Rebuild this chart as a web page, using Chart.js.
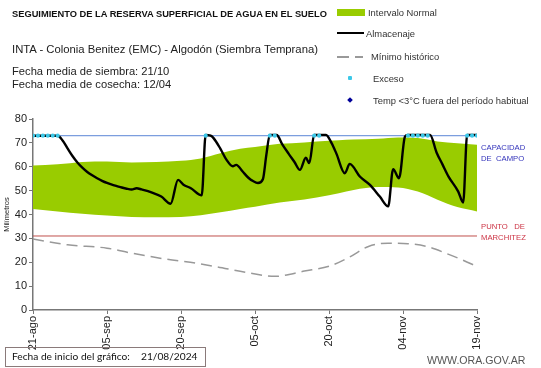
<!DOCTYPE html>
<html><head><meta charset="utf-8">
<script src="https://cdn.jsdelivr.net/npm/chart.js@4"></script>
<style>
body{margin:0;background:#fff;}
#wrap{position:relative;width:541px;height:368px;overflow:hidden;background:#fff;}
canvas{position:absolute;left:0;top:0;}
.t{position:absolute;white-space:nowrap;font-family:"Liberation Sans",Arial,sans-serif;color:#222;}
.lg{position:absolute;white-space:nowrap;font:9.4px "Liberation Sans",Arial,sans-serif;color:#333;}
</style></head>
<body>
<div id="wrap">
<canvas id="c" width="541" height="368"></canvas>
<div class="t" style="left:12px;top:9px;font-weight:bold;font-size:9.3px;color:#111;">SEGUIMIENTO DE LA RESERVA SUPERFICIAL DE AGUA EN EL SUELO</div>
<div class="t" style="left:12px;top:43px;font-size:11.3px;">INTA - Colonia Benitez (EMC) - Algodón (Siembra Temprana)</div>
<div class="t" style="left:12px;top:65px;font-size:11.2px;line-height:13px;">Fecha media de siembra: 21/10<br>Fecha media de cosecha: 12/04</div>

<div style="position:absolute;left:337px;top:9px;width:28px;height:7px;background:#99CC00;"></div>
<div class="lg" style="left:368px;top:7px;">Intervalo Normal</div>
<div style="position:absolute;left:337px;top:32px;width:27px;height:2.2px;background:#000;"></div>
<div class="lg" style="left:366px;top:28px;">Almacenaje</div>
<div style="position:absolute;left:337px;top:56px;width:12px;height:1.5px;background:#999;"></div>
<div style="position:absolute;left:355px;top:56px;width:8px;height:1.5px;background:#999;"></div>
<div class="lg" style="left:371px;top:51px;">Mínimo histórico</div>
<div style="position:absolute;left:348px;top:76px;width:4px;height:4px;background:#3CC8E8;border-radius:1px;"></div>
<div class="lg" style="left:373px;top:73px;">Exceso</div>
<div style="position:absolute;left:348px;top:98px;width:4px;height:4px;background:#000099;transform:rotate(45deg);"></div>
<div class="lg" style="left:373px;top:95px;">Temp &lt;3°C fuera del período habitual</div>

<div class="t" style="left:481px;top:142px;font-size:7.7px;line-height:11px;color:#3333BB;">CAPACIDAD<br>DE&nbsp; CAMPO</div>
<div class="t" style="left:481px;top:221px;font-size:7.7px;line-height:11px;color:#CC3344;">PUNTO&nbsp;&nbsp; DE<br>MARCHITEZ</div>

<div style="position:absolute;left:5px;top:347px;width:199px;height:18px;border:1px solid #8a7a7a;"></div>
<div class="t" style="left:12px;top:350px;font-family:Lato,sans-serif;font-size:10.2px;color:#111;">Fecha de inicio del gráfico:</div>
<div class="t" style="left:141px;top:350px;font-family:Lato,sans-serif;font-size:10.2px;color:#111;">21/08/2024</div>
<div class="t" style="left:427px;top:354px;font-size:10.6px;color:#555;">WWW.ORA.GOV.AR</div>
</div>
<script>
// X axis: days since 21/08/2024
const tickLabels = ['21-ago','05-sep','20-sep','05-oct','20-oct','04-nov','19-nov'];

const almDays = [0,1,2,3,4,5,6,7,8,9,10,11,12,13,14,15,16,17,18,19,20,21,22,24,26,27.9,29.4,30.5,32,34.2,35,36,36.6,38,39.2,40.5,41.2,42.5,43.6,44.6,45.6,46.6,47.3,48,49,49.4,50.5,51.8,53,54.1,55.3,56,57,58,59.4,60.5,61.5,63.2,64.2,66.3,68.3,70.3,72,73,74.2,75.4,76,77,78,79,80,80.5,81.8,83,84.2,86.2,87.2,88,89,90];
const almVals = [73,73,73,73,73,73,71,67.7,64.5,61.8,59.6,57.8,56.4,55.2,54.1,53.2,52.5,51.9,51.3,50.8,50.5,51,50.5,49.3,47.5,44.5,54.5,52.5,51,48,73.3,73,72,67.5,63,60.2,60.8,58,55.5,54,53.2,54.8,65,73.3,73.3,73.3,69.5,65.5,62,58.7,63.8,61.5,73.3,73.3,73.3,70,65.5,57.3,61.2,55.8,52.4,47.5,43.4,59,55.2,72.6,73.3,73.3,73.3,73.3,73.3,73.3,66,61,56,49.6,45,73.3,73.3,73.3];

const excesoDays = [0,1,2,3,4,5,35,48,49,57,58,76,77,78,79,80,88,89,90];
const excesoVals = [73,73,73,73,73,73,73,73,73,73,73,73,73,73,73,73,73,73,73];

const bandDays = [0,5,10,15,20,25,30,34,38,42,45,50,55,60,62,65,70,74,78,82,86,90];
const bandUpper = [60.5,61,62,62.2,61.8,62,62.5,63.5,65.7,67.5,68.3,69.6,70.2,70.9,71.1,71.4,71.7,72.3,72,70.6,69.8,69.2];
const bandLower = [42.3,41.3,40.3,39.6,39,38.9,39,39.7,40.9,42.3,43.2,45,46.3,48.1,48.9,50.3,51.5,51.3,49.6,46.2,43.1,41.3];

const minDays = [0,7,15,20,27,33,37,43,49,55,60,64,68,72,76,80,84,87,90];
const minVals = [29.7,27.3,25.9,23.8,21.3,19.6,18.2,15.8,14.1,16.3,18.3,22,26.6,28,27.8,26.5,23.5,21,18.2];

const capacidadCampo = 73;
const puntoMarchitez = 31;
const xMin = 0, xMax = 90;

const pts = (xs, ys) => xs.map((x, i) => ({x, y: ys[i]}));

new Chart(document.getElementById('c'), {
  type: 'line',
  data: {
    datasets: [
      {label:'Exceso', data: pts(excesoDays, excesoVals), showLine:false, pointRadius:2.1, pointBackgroundColor:'#3CC8E8', pointBorderWidth:0, pointStyle:'circle'},
      {label:'Almacenaje', data: pts(almDays, almVals), borderColor:'#000', borderWidth:2.4, pointRadius:0, tension:0.35, cubicInterpolationMode:'monotone', fill:false},
      {label:'Mínimo histórico', data: pts(minDays, minVals), borderColor:'#999', borderWidth:1.5, borderDash:[11,6], pointRadius:0, tension:0.3, cubicInterpolationMode:'monotone', fill:false},
      {label:'Capacidad', data: [{x:xMin,y:capacidadCampo},{x:xMax,y:capacidadCampo}], borderColor:'#5B86D6', borderWidth:1, pointRadius:0, fill:false},
      {label:'Marchitez', data: [{x:xMin,y:puntoMarchitez},{x:xMax,y:puntoMarchitez}], borderColor:'#C0504D', borderWidth:1, pointRadius:0, fill:false},
      {label:'Intervalo Normal', data: pts(bandDays, bandUpper), borderWidth:0, borderColor:'rgba(0,0,0,0)', pointRadius:0, tension:0.3, cubicInterpolationMode:'monotone', fill:'+1', backgroundColor:'#99CC00'},
      {label:'lower', data: pts(bandDays, bandLower), borderWidth:0, borderColor:'rgba(0,0,0,0)', pointRadius:0, tension:0.3, cubicInterpolationMode:'monotone', fill:false}
    ]
  },
  options: {
    responsive:false, animation:false, devicePixelRatio:1,
    layout:{padding:{left:0,right:64,top:119,bottom:0}},
    plugins:{legend:{display:false}, tooltip:{enabled:false}},
    scales:{
      x:{type:'linear', min:xMin, max:xMax,
        ticks:{stepSize:15, autoSkip:false, maxRotation:90, minRotation:90, color:'#222', padding:2,
          font:{family:'"Liberation Sans", Arial, sans-serif', size:11},
          callback:(v)=> tickLabels[Math.round(v/15)]},
        grid:{drawOnChartArea:false, drawTicks:true, tickLength:4, color:'#777'},
        border:{color:'#777', width:1.5},
        afterFit:(s)=>{s.height = 58;}
      },
      y:{min:0, max:80,
        ticks:{stepSize:10, color:'#222', padding:2, font:{family:'"Liberation Sans", Arial, sans-serif', size:11}},
        grid:{drawOnChartArea:false, drawTicks:true, tickLength:4, color:'#777'},
        border:{color:'#777', width:1.5},
        title:{display:true, text:'Milímetros', color:'#222', font:{family:'"Liberation Sans", Arial, sans-serif', size:7.5}, padding:{top:2,bottom:0}},
        afterFit:(s)=>{s.width = 33;}
      }
    }
  }
});
</script>
</body></html>
